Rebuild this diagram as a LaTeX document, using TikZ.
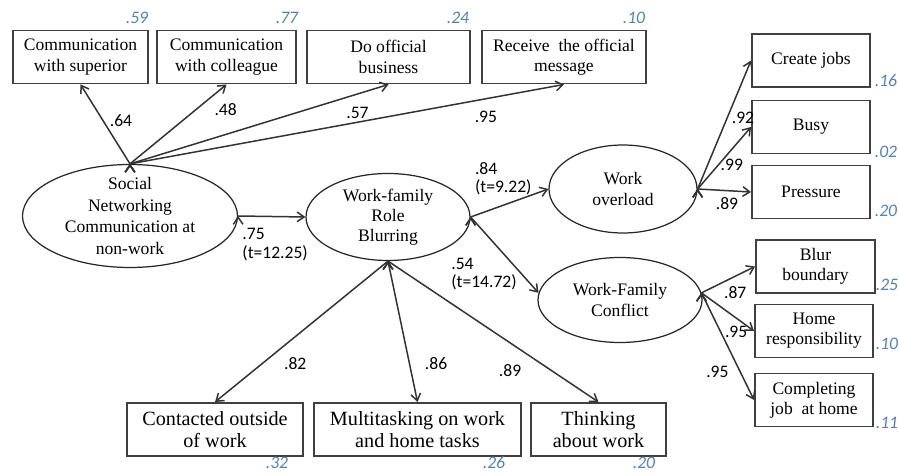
\documentclass[tikz,border=0pt]{standalone}
\usepackage{fontspec}
\setmainfont{Liberation Serif}
\newfontfamily\boxfont{Liberation Serif}
\newfontfamily\numfont{Carlito}
\usetikzlibrary{arrows.meta, shapes.geometric}
\definecolor{errblue}{RGB}{79,129,189}

\begin{document}
\begin{tikzpicture}[x=0.2mm, y=-0.2mm,
    box/.style = {draw=black!75, line width=1.1pt, minimum height=10.6mm, align=center, inner sep=1pt, font=\boxfont\fontsize{10}{11.5}\selectfont},
    bigbox/.style = {box, font=\boxfont\fontsize{11.5}{12.3}\selectfont},
    lat/.style = {draw=black!85, line width=0.7pt, ellipse, align=center, inner sep=-3pt, font=\boxfont\fontsize{10}{11.5}\selectfont},
    coef/.style = {font=\numfont\fontsize{10}{10.5}\selectfont, align=left},
    err/.style = {font=\numfont\itshape\fontsize{10}{12}\selectfont, text=errblue, inner sep=0pt},
    load/.style = {-{Straight Barb[length=4pt,width=5.5pt]}, line width=0.85pt, draw=black!80}]
    \useasboundingbox (0,0) rectangle (899,476);

    \node[box, minimum width=27mm] (sup) at (80.5,57) {Communication\\with superior};
    \node[box, minimum width=27.8mm] (col) at (226.5,57) {Communication\\with colleague};
    \node[box, minimum width=32.6mm] (biz) at (388.5,57) {Do official\\business};
    \node[box, minimum width=32.8mm] (msg) at (564,57) {Receive\ \ the official\\message};

    \node[lat, minimum width=43mm, minimum height=20.6mm, font=\boxfont\fontsize{10}{12.3}\selectfont] (SNC) at (130,216) {Social\\Networking\\Communication at\\non-work};
    \node[lat, minimum width=32.8mm, minimum height=17.4mm] (WRB) at (388,217) {Work-family\\Role\\Blurring};
    \node[lat, minimum width=29.6mm, minimum height=17.6mm] (WO) at (623,189) {Work\\overload};
    \node[lat, minimum width=32.8mm, minimum height=17mm] (WFC) at (620,300) {Work-Family\\Conflict};

    \node[box, minimum width=23.6mm] (jobs) at (811,60.5) {Create jobs};
    \node[box, minimum width=23.6mm] (busy) at (811,127) {Busy};
    \node[box, minimum width=23.6mm] (press) at (811,192) {Pressure};
    \node[box, minimum width=23.8mm] (blur) at (815.5,266.5) {Blur\\boundary};
    \node[box, minimum width=23.6mm] (home) at (814,331) {Home\\responsibility};
    \node[box, minimum width=23.6mm] (compl) at (814,400) {Completing\\job\ \ at home};

    \node[bigbox, minimum width=35.2mm] (contact) at (215,429.5) {Contacted outside\\of work};
    \node[bigbox, minimum width=41.4mm] (multi) at (417.5,429.5) {Multitasking on work\\and home tasks};
    \node[bigbox, minimum width=27mm] (think) at (598.5,429.5) {Thinking\\about work};

    \node[err] (esup) at (137,18) {.59};
    \node[err] (ecol) at (287,18) {.77};
    \node[err] (ebiz) at (458,18) {.24};
    \node[err] (emsg) at (634,18) {.10};
    \node[err] (ejobs) at (886,81) {.16};
    \node[err] (ebusy) at (886,152) {.02};
    \node[err] (epress) at (886,211) {.20};
    \node[err] (eblur) at (887,285) {.25};
    \node[err] (ehome) at (887,344) {.10};
    \node[err] (ecompl) at (887,423) {.11};
    \node[err] (econtact) at (277,463) {.32};
    \node[err] (emulti) at (494,463) {.26};
    \node[err] (ethink) at (644,463) {.20};

    \path[load] (SNC.north) edge node[coef, pos=0.54, right] {.64} (sup.south);
    \path[load] (SNC.north) edge node[coef, pos=0.68, right=7pt] {.48} (col.south);
    \path[load] (SNC.north) edge node[coef, pos=0.88, below=3.5pt] {.57} (biz.south);
    \path[load] (SNC.north) edge node[coef, pos=0.82, below=3.5pt] {.95} (msg.south);

    \path[load] (SNC.east) edge node[coef, pos=0.55, below=3pt] {.75\\(t=12.25)} (WRB.west);
    \path[load] (WRB.east) edge node[coef, pos=0.42, above=2pt] {.84\\(t=9.22)} (WO.west);
    \path[load] (WRB.east) edge node[coef, pos=0.75, left=-1pt] {.54\\(t=14.72)} (WFC.175);

    \path[load] (WO.east) edge node[coef, pos=0.55, right=-1pt] {.92} (jobs.west);
    \path[load] (WO.east) edge node[coef, pos=0.64, below=2pt] {.99} (busy.west);
    \path[load] (WO.east) edge node[coef, pos=0.55, below] {.89} (press.west);

    \path[load] (WFC.5) edge node[coef, pos=0.63, below=2pt] {.87} (blur.west);
    \path[load] (WFC.5) edge node[coef, pos=0.66, below=1pt] {.95} (home.west);
    \path[load] (WFC.5) edge node[coef, pos=0.74, left=3pt] {.95} (compl.west);

    \path[load] (WRB.south) edge node[coef, pos=0.73, right=9pt] {.82} (contact.north);
    \path[load] (WRB.south) edge node[coef, pos=0.73, right=5pt] {.86} (multi.north);
    \path[load] (WRB.south) edge node[coef, pos=0.58, below=8.5pt] {.89} (think.north);
\end{tikzpicture}
\end{document}
